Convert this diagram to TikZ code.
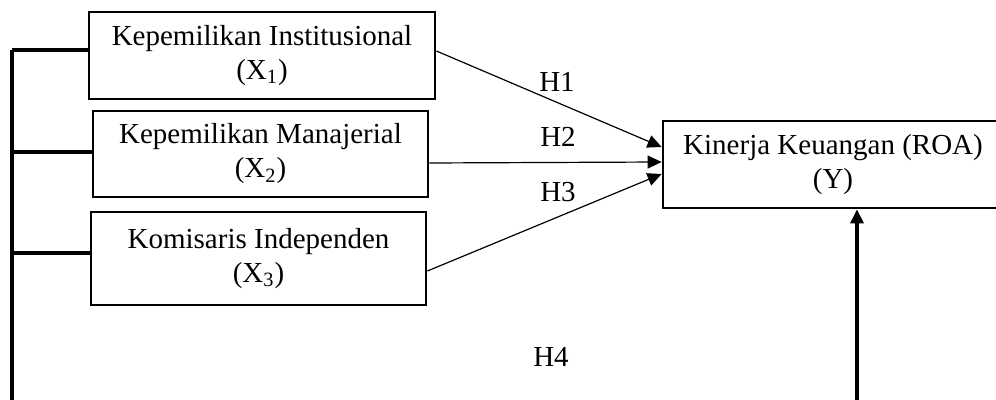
\documentclass[tikz,border=0pt]{standalone}
\usepackage{fontspec}
\setmainfont{Liberation Serif}
\usetikzlibrary{arrows.meta,calc}

\begin{document}
\begin{tikzpicture}[x=.5pt,y=-.5pt,
  box/.style={draw,line width=1.4pt,align=center,inner sep=0pt,font=\fontsize{14.5}{17}\selectfont},
  hyp/.style={line width=.6pt,-{Triangle[length=7pt,width=6.5pt]}},
  link/.style={line width=1.6pt},
  lbl/.style={font=\fontsize{14.5}{17}\selectfont,inner sep=0pt}]
  \clip (0,0) rectangle (996,400);
  \node[box,minimum width=173pt,minimum height=43.5pt] (X1) at (262,55.5) {Kepemilikan Institusional\\(X\textsubscript{1})};
  \node[box,minimum width=167.5pt,minimum height=43pt] (X2) at (260.5,154) {Kepemilikan Manajerial\\(X\textsubscript{2})};
  \node[box,minimum width=167.5pt,minimum height=46.5pt] (X3) at (258.5,258.5) {Komisaris Independen\\(X\textsubscript{3})};
  \node[box,minimum width=170pt,minimum height=43.5pt] (Y) at (833,164.5) {Kinerja Keuangan (ROA)\\(Y)};
  \coordinate (bus) at (12,50);
  \coordinate (base) at (857,420);
  \coordinate (b1) at ([yshift=2.75pt]X1.west);
  \coordinate (b2) at ([yshift=1pt]X2.west);
  \coordinate (b3) at ([yshift=2.75pt]X3.west);
  \draw[link] (b1) -- (b1 -| bus);
  \draw[link] (b2) -- (b2 -| bus);
  \draw[link] (b3) -- (b3 -| bus);
  \draw[hyp] ([yshift=2.25pt]X1.east) -- ([yshift=8.75pt]Y.west);
  \draw[hyp] ([yshift=-4.5pt]X2.east) -- ([yshift=1.25pt]Y.west);
  \draw[hyp] ([yshift=-6.25pt]X3.east) -- ([yshift=-4.75pt]Y.west);
  \draw[link,-{Triangle[length=7pt,width=6.5pt]}] (bus) |- (base) -| ([xshift=12pt]Y.south);
  \node[lbl] (h1) at (557,82) {H1};
  \node[lbl] (h2) at (558,137) {H2};
  \node[lbl] (h3) at (558,192) {H3};
  \node[lbl] (h4) at (551,357) {H4};
\end{tikzpicture}
\end{document}
